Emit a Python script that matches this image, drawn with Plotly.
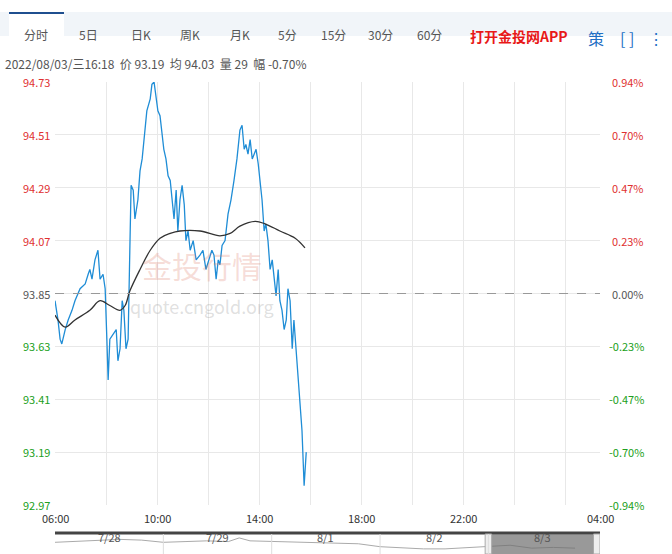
import plotly.graph_objects as go

# minutes after 06:00, price
t_min = [0, 7, 12, 16, 24, 31, 40, 47, 59, 71, 78, 82, 87, 94, 101, 106, 113, 118, 122, 125,
         129, 136, 144, 148, 153, 158, 162, 167, 172, 176, 179, 184, 188, 195, 200, 205, 212, 216, 224, 228,
         233, 238, 242, 247, 252, 256, 261, 266, 271, 275, 280, 285, 289, 294, 299, 304, 308, 313, 318, 325,
         332, 341, 348, 355, 362, 369, 374, 379, 384, 388, 393, 400, 407, 414, 421, 428, 435, 440, 445, 449,
         454, 459, 464, 468, 473, 478, 482, 487, 492, 496, 501, 506, 511, 515, 520, 525, 529, 534, 539, 544,
         548, 553, 558, 562, 567, 572, 576, 581, 586, 591]
price = [93.82, 93.74, 93.66, 93.64, 93.70, 93.74, 93.78, 93.82, 93.87, 93.89, 93.93, 93.95, 93.91, 93.99, 94.03, 93.91, 93.93, 93.87, 93.66, 93.49,
         93.66, 93.68, 93.70, 93.57, 93.62, 93.82, 93.78, 93.62, 93.66, 94.03, 94.30, 94.28, 94.16, 94.24, 94.36, 94.41, 94.53, 94.61, 94.66, 94.72,
         94.73, 94.66, 94.61, 94.59, 94.51, 94.45, 94.41, 94.34, 94.32, 94.24, 94.16, 94.28, 94.11, 94.24, 94.30, 94.22, 94.07, 94.11, 94.03, 94.07,
         93.99, 94.01, 94.03, 93.95, 93.99, 94.03, 94.01, 93.91, 93.99, 93.97, 94.05, 94.07, 94.18, 94.24, 94.32, 94.41, 94.53, 94.55, 94.45, 94.47,
         94.43, 94.49, 94.41, 94.43, 94.45, 94.39, 94.32, 94.24, 94.11, 94.14, 94.07, 93.95, 93.99, 93.91, 93.84, 93.95, 93.82, 93.78, 93.70, 93.74,
         93.87, 93.82, 93.62, 93.74, 93.62, 93.49, 93.41, 93.28, 93.05, 93.19]
avg_t = [0, 24, 47, 82, 106, 129, 153, 165, 176, 200, 224, 247, 271, 294, 341, 388, 412, 435, 471, 494, 529, 565, 588]
avg_p = [93.76, 93.71, 93.74, 93.78, 93.82, 93.80, 93.78, 93.80, 93.86, 93.95, 94.03, 94.08, 94.10, 94.11, 94.11,
         94.09, 94.10, 94.13, 94.15, 94.14, 94.11, 94.08, 94.04]

prev_close = 93.85
y_ticks = [94.73, 94.51, 94.29, 94.07, 93.85, 93.63, 93.41, 93.19, 92.97]
pct_labels = ["0.94%", "0.70%", "0.47%", "0.23%", "0.00%", "-0.23%", "-0.47%", "-0.70%", "-0.94%"]
x_tick_min = [0, 240, 480, 720, 960, 1282]
x_tick_text = ["06:00", "10:00", "14:00", "18:00", "22:00", "04:00"]

# navigator overview (5 days)
nav_x = [0, 0.2, 0.4, 0.6, 0.8, 1.0, 1.2, 1.4, 1.6, 1.7, 1.8, 2.0, 2.2, 2.4, 2.6, 2.8, 3.0, 3.2, 3.4, 3.6, 3.8, 4.0, 4.2, 4.4, 4.6, 4.8]
nav_y = [5, 5.5, 6, 7, 6.5, 5, 5.5, 6, 5.5, 8, 6, 5.5, 5, 4.5, 4.5, 4, 2, 1, 0.5, 0.5, 1.5, 2, 3, 1, 1.5, 1]
nav_days = ["7/28", "7/29", "8/1", "8/2", "8/3"]
tabs = ["分时", "5日", "日K", "周K", "月K", "5分", "15分", "30分", "60分"]

fig = go.Figure()
fig.add_trace(go.Scatter(x=t_min, y=price, mode="lines", line=dict(color="#1f8dd6", width=1.3), hoverinfo="skip"))
fig.add_trace(go.Scatter(x=avg_t, y=avg_p, mode="lines", line=dict(color="#333333", width=1.3, shape="spline"), hoverinfo="skip"))
fig.add_trace(go.Scatter(x=nav_x, y=nav_y, mode="lines", line=dict(color="#aaaaaa", width=1), xaxis="x2", yaxis="y2", hoverinfo="skip"))

def col(v):
    if v > prev_close:
        return "#e03030"
    if v < prev_close:
        return "#20a020"
    return "#555555"

ann = []
for v, p in zip(y_ticks, pct_labels):
    ann.append(dict(x=0, xref="paper", xanchor="right", xshift=-3, y=v, yref="y", text="%.2f" % v,
                    showarrow=False, font=dict(size=11, color=col(v))))
    ann.append(dict(x=1, xref="paper", xanchor="right", xshift=46, y=v, yref="y", text=p,
                    showarrow=False, font=dict(size=11, color=col(v))))
for m, s in zip(x_tick_min, x_tick_text):
    ann.append(dict(x=m, xref="x", y=0.0884, yref="paper", yanchor="top", yshift=-3, text=s,
                    xanchor="center", showarrow=False, font=dict(size=11, color="#333")))
for i, d in enumerate(nav_days):
    ann.append(dict(x=i + 0.5, xref="x2", y=0.012, yref="paper", text=d, xanchor="center", showarrow=False,
                    font=dict(size=11, color="#555")))
tab_x = [36, 88, 141, 190, 240, 287, 333, 380, 429]
for x, s in zip(tab_x, tabs):
    ann.append(dict(x=x, xref="pixel", xanchor="center", y=1 - 24 / 554, yref="paper", text=s, showarrow=False,
                    font=dict(size=12, color="#555")))
ann.append(dict(x=519, xref="pixel", xanchor="center", y=1 - 24 / 554, yref="paper", text="<b>打开金投网APP</b>", showarrow=False,
                font=dict(size=14, color="#e81818")))
ann.append(dict(x=596, xref="pixel", xanchor="center", y=1 - 24 / 554, yref="paper", text="策", showarrow=False,
                font=dict(size=16, color="#1f6fc4")))
ann.append(dict(x=627, xref="pixel", xanchor="center", y=1 - 24 / 554, yref="paper", text="[ ]", showarrow=False,
                font=dict(size=16, color="#1f6fc4")))
ann.append(dict(x=656, xref="pixel", xanchor="center", y=1 - 24 / 554, yref="paper", text="⋮", showarrow=False,
                font=dict(size=16, color="#1f6fc4")))
ann.append(dict(x=3, xref="pixel", xanchor="left", y=1 - 53 / 554, yref="paper",
                text="2022/08/03/三16:18  价 93.19  均 94.03  量 29  幅 -0.70%", showarrow=False,
                font=dict(size=12, color="#555")))
ann.append(dict(x=345, xref="x", y=93.97, yref="y", text="金投行情", xanchor="center", showarrow=False,
                font=dict(size=30, color="rgba(220,120,100,0.25)")))
ann.append(dict(x=345, xref="x", y=93.80, yref="y", text="quote.cngold.org", xanchor="center", showarrow=False,
                font=dict(size=18, color="rgba(150,150,150,0.3)")))
for a in ann:
    if a.get("xref") == "pixel":
        a["x"] = (a["x"] - 55) / (672 - 55 - 72)
        a["xref"] = "paper"

shapes = [
    dict(type="rect", xref="paper", yref="paper", x0=-55 / 545, x1=1 + 72 / 545, y0=1 - 36 / 554, y1=1 - 12 / 554,
         fillcolor="#f1f5f9", line=dict(width=0), layer="below"),
    dict(type="rect", xref="paper", yref="paper", x0=-46 / 545, x1=9 / 545, y0=1 - 37 / 554, y1=1 - 12 / 554,
         fillcolor="white", line=dict(width=0), layer="below"),
    dict(type="line", xref="paper", yref="paper", x0=-46 / 545, x1=9 / 545, y0=1 - 13 / 554, y1=1 - 13 / 554,
         line=dict(color="#1f4f8f", width=2)),
    dict(type="line", xref="x", yref="y", x0=0, x1=1282, y0=prev_close, y1=prev_close, line=dict(color="#999", width=1, dash="dash")),
    dict(type="line", xref="paper", yref="paper", x0=0, x1=1, y0=1 - 533 / 554, y1=1 - 533 / 554, line=dict(color="#444", width=3)),
    dict(type="rect", xref="x2", yref="paper", x0=4.0, x1=5.0, y0=0, y1=1 - 534 / 554, fillcolor="rgba(110,110,110,0.7)", line=dict(width=0)),
    dict(type="rect", xref="x2", yref="paper", x0=3.97, x1=4.03, y0=0, y1=1 - 534 / 554, fillcolor="#eee", line=dict(color="#aaa", width=1)),
    dict(type="rect", xref="x2", yref="paper", x0=4.97, x1=5.03, y0=0, y1=1 - 534 / 554, fillcolor="#eee", line=dict(color="#aaa", width=1)),
]
for i in range(1, 5):
    shapes.append(dict(type="line", xref="x2", yref="paper", x0=i, x1=i, y0=0, y1=1 - 534 / 554, line=dict(color="#ddd", width=1)))

fig.update_layout(
    width=672, height=554, margin=dict(l=55, r=72, t=0, b=0),
    paper_bgcolor="white", plot_bgcolor="white", showlegend=False,
    font=dict(family="Noto Sans CJK SC, Arial"),
    xaxis=dict(range=[0, 1282], domain=[0, 1], tickvals=list(range(0, 1282, 120)), showticklabels=False,
               showgrid=True, gridcolor="#e8e8e8", zeroline=False, fixedrange=True),
    yaxis=dict(range=[92.97, 94.73], domain=[49 / 554, 472 / 554], tickvals=y_ticks, showticklabels=False,
               showgrid=True, gridcolor="#e8e8e8", zeroline=False),
    xaxis2=dict(range=[0, 5.03], domain=[0, 1], anchor="y2", showticklabels=False, showgrid=False, zeroline=False),
    yaxis2=dict(range=[-3, 10], domain=[0, 19 / 554], showticklabels=False, showgrid=False, zeroline=False),
    annotations=ann, shapes=shapes,
)
fig.write_html("out.html", config={"displayModeBar": False}, post_script="document.body.style.margin='0';")
